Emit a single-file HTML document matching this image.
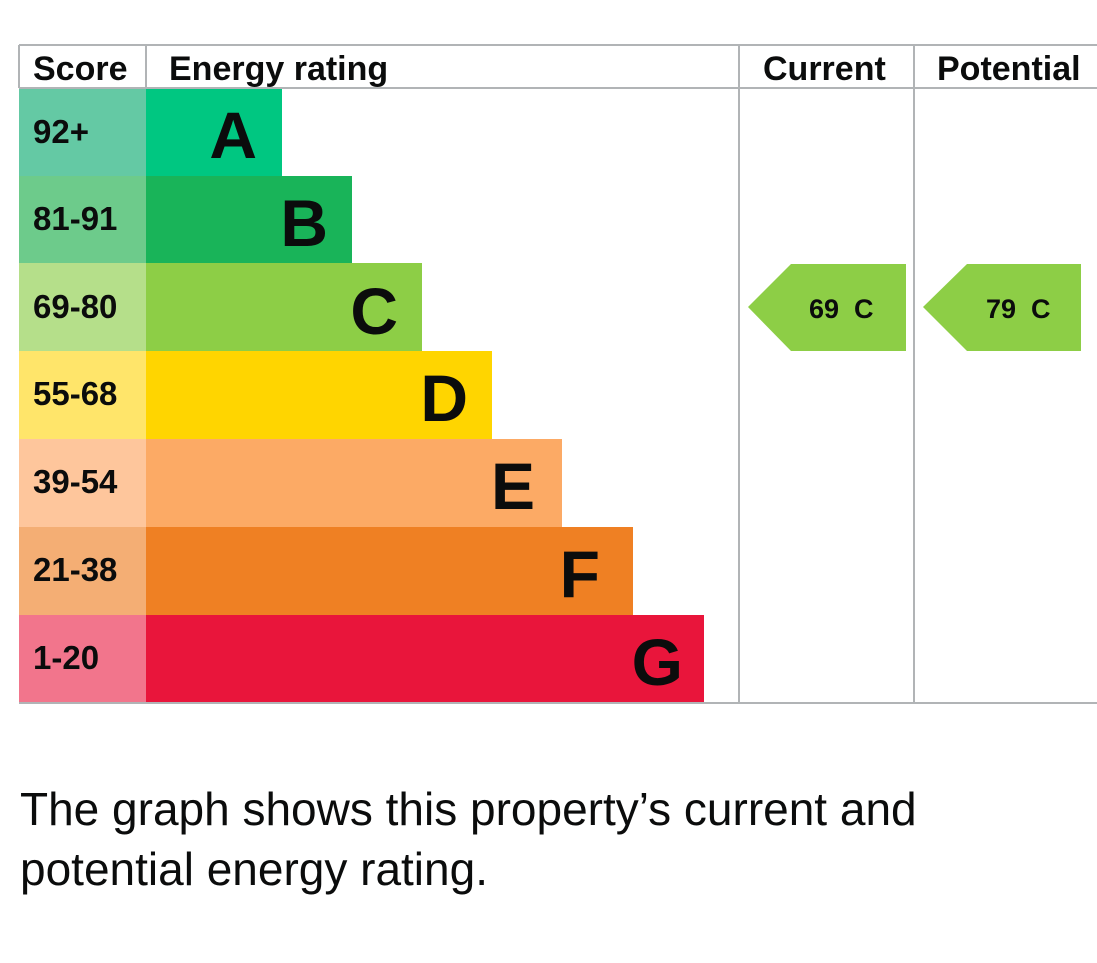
<!DOCTYPE html>
<html><head><meta charset="utf-8"><style>
html,body{margin:0;padding:0;background:#fff;width:1097px;height:963px;overflow:hidden}
svg{position:absolute;left:0;top:0}
p{position:absolute;left:20px;top:779px;margin:0;font-family:"Liberation Sans",sans-serif;font-size:46px;line-height:60px;color:#0b0c0c;width:1070px;white-space:nowrap}
</style></head><body>
<svg width="1097" height="963" font-family="Liberation Sans, sans-serif" font-weight="bold">
<g>
<rect x="19" y="88" width="127" height="88" fill="#64c9a4"/>
<rect x="19" y="176" width="127" height="88" fill="#6dcb8b"/>
<rect x="19" y="263" width="127" height="88" fill="#b5df8a"/>
<rect x="19" y="351" width="127" height="88" fill="#ffe56a"/>
<rect x="19" y="439" width="127" height="88" fill="#fec69c"/>
<rect x="19" y="527" width="127" height="88" fill="#f4ae74"/>
<rect x="19" y="615" width="127" height="88" fill="#f2758c"/>
<rect x="146" y="88" width="136" height="88" fill="#00c781"/>
<rect x="146" y="176" width="206" height="88" fill="#19b459"/>
<rect x="146" y="263" width="276" height="88" fill="#8dce46"/>
<rect x="146" y="351" width="346" height="88" fill="#ffd500"/>
<rect x="146" y="439" width="416" height="88" fill="#fcaa65"/>
<rect x="146" y="527" width="487" height="88" fill="#ef8023"/>
<rect x="146" y="615" width="558" height="88" fill="#e9153b"/>
</g>
<g stroke="#b1b4b6" stroke-width="2" fill="none">
<line x1="19" y1="45" x2="1097" y2="45"/>
<line x1="19" y1="88" x2="1097" y2="88"/>
<line x1="19" y1="703" x2="1097" y2="703"/>
<line x1="19" y1="45" x2="19" y2="88"/>
<line x1="146" y1="45" x2="146" y2="88"/>
<line x1="739" y1="45" x2="739" y2="703"/>
<line x1="914" y1="45" x2="914" y2="703"/>
</g>
<g font-size="34" fill="#0b0c0c">
<text x="33" y="80">Score</text>
<text x="169" y="80">Energy rating</text>
<text x="763" y="80">Current</text>
<text x="937" y="80">Potential</text>
</g>
<g font-size="33" fill="#0b0c0c">
<text x="33" y="143">92+</text>
<text x="33" y="230">81-91</text>
<text x="33" y="318">69-80</text>
<text x="33" y="405">55-68</text>
<text x="33" y="493">39-54</text>
<text x="33" y="581">21-38</text>
<text x="33" y="669">1-20</text>
</g>
<g font-size="66" fill="#0b0c0c" text-anchor="end">
<text x="257" y="158">A</text>
<text x="328" y="246">B</text>
<text x="398" y="334">C</text>
<text x="468" y="421">D</text>
<text x="535" y="509">E</text>
<text x="600" y="597">F</text>
<text x="683" y="685">G</text>
</g>
<polygon points="748,307 791,264 906,264 906,351 791,351" fill="#8dce46"/>
<polygon points="923,307 967,264 1081,264 1081,351 967,351" fill="#8dce46"/>
<g font-size="27" fill="#0b0c0c">
<text x="809" y="318">69&#160;&#160;C</text>
<text x="986" y="318">79&#160;&#160;C</text>
</g>
</svg>
<p>The graph shows this property’s current and<br>potential energy rating.</p>
</body></html>
